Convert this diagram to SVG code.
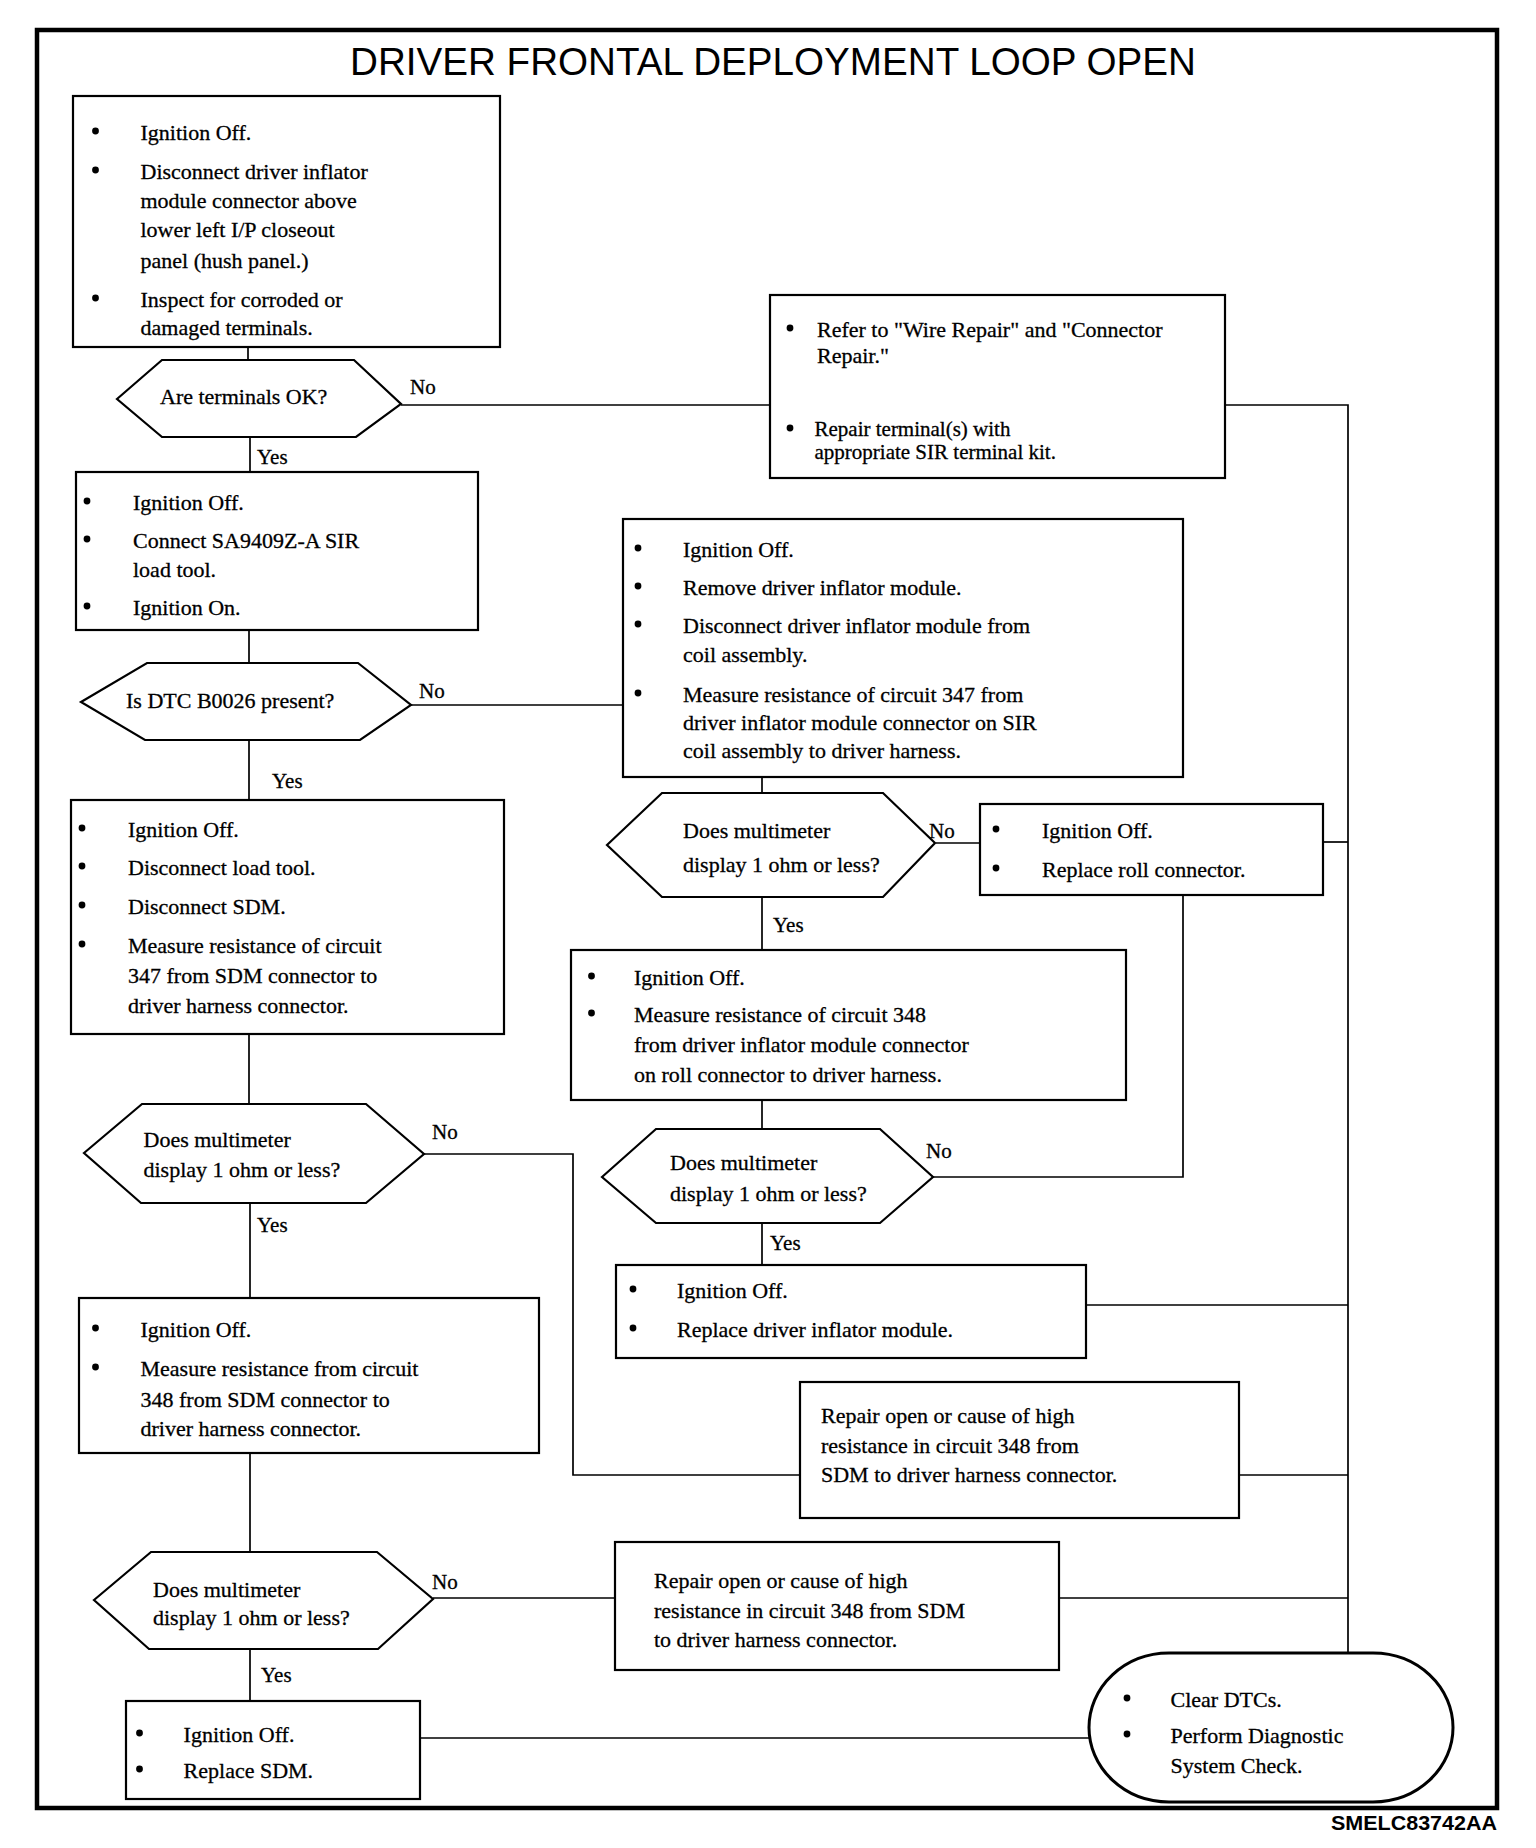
<svg xmlns="http://www.w3.org/2000/svg" width="1536" height="1848" viewBox="0 0 1536 1848">
<style>
.box{fill:#fff;stroke:#000;stroke-width:2.2}
.dec{fill:#fff;stroke:#000;stroke-width:2.2;stroke-linejoin:miter}
.term{fill:#fff;stroke:#000;stroke-width:3}
.t{font-family:"Liberation Serif","Times New Roman",serif;font-size:22px;fill:#000;stroke:#000;stroke-width:0.3}
.s{font-size:21px}
.lbl{font-family:"Liberation Serif","Times New Roman",serif;font-size:21px;fill:#000;stroke:#000;stroke-width:0.3}
.c{fill:none;stroke:#000;stroke-width:1.7}
.b{fill:#000}
.title{font-family:"Liberation Sans",Arial,sans-serif;font-size:38.5px;fill:#000}
.code{font-family:"Liberation Sans",Arial,sans-serif;font-size:21px;font-weight:bold;fill:#000}
</style>
<rect x="0" y="0" width="1536" height="1848" fill="#fff"/>
<rect x="37" y="30" width="1460" height="1778" fill="none" stroke="#000" stroke-width="4.5"/>
<text class="title" x="773" y="75" text-anchor="middle" textLength="846" lengthAdjust="spacingAndGlyphs">DRIVER FRONTAL DEPLOYMENT LOOP OPEN</text>
<text class="code" x="1497" y="1830" text-anchor="end" textLength="166" lengthAdjust="spacingAndGlyphs">SMELC83742AA</text>

<g id="connectors">
<path class="c" d="M248,347 V360"/>
<path class="c" d="M401,405 H770"/>
<path class="c" d="M250,437 V472"/>
<path class="c" d="M249,630 V663"/>
<path class="c" d="M411,705 H623"/>
<path class="c" d="M249,740 V800"/>
<path class="c" d="M762,777 V793"/>
<path class="c" d="M936,843 H980"/>
<path class="c" d="M762,897 V950"/>
<path class="c" d="M249,1034 V1104"/>
<path class="c" d="M424,1154 H573 V1475 H800"/>
<path class="c" d="M1183,895 V1177 H933"/>
<path class="c" d="M762,1100 V1129"/>
<path class="c" d="M762,1223 V1265"/>
<path class="c" d="M250,1203 V1298"/>
<path class="c" d="M250,1453 V1552"/>
<path class="c" d="M433,1598 H615"/>
<path class="c" d="M250,1649 V1701"/>
<path class="c" d="M1225,405 H1348 V1653"/>
<path class="c" d="M1323,842 H1348"/>
<path class="c" d="M1086,1305 H1348"/>
<path class="c" d="M1239,1475 H1348"/>
<path class="c" d="M1059,1598 H1348"/>
<path class="c" d="M420,1738 H1089"/>
<text class="lbl" x="410" y="394">No</text>
<text class="lbl" x="257" y="464">Yes</text>
<text class="lbl" x="419" y="698">No</text>
<text class="lbl" x="272" y="788">Yes</text>
<text class="lbl" x="929" y="838">No</text>
<text class="lbl" x="773" y="932">Yes</text>
<text class="lbl" x="432" y="1139">No</text>
<text class="lbl" x="257" y="1232">Yes</text>
<text class="lbl" x="926" y="1158">No</text>
<text class="lbl" x="770" y="1250">Yes</text>
<text class="lbl" x="432" y="1589">No</text>
<text class="lbl" x="261" y="1682">Yes</text>
</g>

<g id="step1">
<rect class="box" x="73" y="96" width="427" height="251"/>
<circle class="b" cx="95.5" cy="131" r="3.4"/>
<circle class="b" cx="95.5" cy="170" r="3.4"/>
<circle class="b" cx="95.5" cy="298" r="3.4"/>
<text class="t" x="140.5" y="140">Ignition Off.</text>
<text class="t" x="140.5" y="179">Disconnect driver inflator</text>
<text class="t" x="140.5" y="208">module connector above</text>
<text class="t" x="140.5" y="237">lower left I/P closeout</text>
<text class="t" x="140.5" y="268">panel (hush panel.)</text>
<text class="t" x="140.5" y="307">Inspect for corroded or</text>
<text class="t" x="140.5" y="335">damaged terminals.</text>
</g>

<g id="q-terminals">
<polygon class="dec" points="117,399 162,360 354,360 401,404 356,437 162,437"/>
<text class="t" x="160" y="404">Are terminals OK?</text>
</g>

<g id="repair-terminals">
<rect class="box" x="770" y="295" width="455" height="183"/>
<circle class="b" cx="790" cy="328" r="3.4"/>
<circle class="b" cx="790" cy="428" r="3.4"/>
<text class="t" x="817" y="337">Refer to "Wire Repair" and "Connector</text>
<text class="t" x="817" y="363">Repair."</text>
<text class="t s" x="814.5" y="436">Repair terminal(s) with</text>
<text class="t s" x="814.5" y="459">appropriate SIR terminal kit.</text>
</g>

<g id="step2">
<rect class="box" x="76" y="472" width="402" height="158"/>
<circle class="b" cx="87" cy="501" r="3.4"/>
<circle class="b" cx="87" cy="539" r="3.4"/>
<circle class="b" cx="87" cy="606" r="3.4"/>
<text class="t" x="133" y="510">Ignition Off.</text>
<text class="t" x="133" y="548">Connect SA9409Z-A SIR</text>
<text class="t" x="133" y="577">load tool.</text>
<text class="t" x="133" y="615">Ignition On.</text>
</g>

<g id="q-dtc">
<polygon class="dec" points="81,702 147,663 358,663 411,705 360,740 145,740"/>
<text class="t" x="126" y="708">Is DTC B0026 present?</text>
</g>

<g id="step-347-coil">
<rect class="box" x="623" y="519" width="560" height="258"/>
<circle class="b" cx="638" cy="548" r="3.4"/>
<circle class="b" cx="638" cy="586" r="3.4"/>
<circle class="b" cx="638" cy="624" r="3.4"/>
<circle class="b" cx="638" cy="693" r="3.4"/>
<text class="t" x="683" y="557">Ignition Off.</text>
<text class="t" x="683" y="595">Remove driver inflator module.</text>
<text class="t" x="683" y="633">Disconnect driver inflator module from</text>
<text class="t" x="683" y="662">coil assembly.</text>
<text class="t" x="683" y="702">Measure resistance of circuit 347 from</text>
<text class="t" x="683" y="730">driver inflator module connector on SIR</text>
<text class="t" x="683" y="758">coil assembly to driver harness.</text>
</g>

<g id="step-347-sdm">
<rect class="box" x="71" y="800" width="433" height="234"/>
<circle class="b" cx="82" cy="828" r="3.4"/>
<circle class="b" cx="82" cy="866" r="3.4"/>
<circle class="b" cx="82" cy="905" r="3.4"/>
<circle class="b" cx="82" cy="944" r="3.4"/>
<text class="t" x="128" y="837">Ignition Off.</text>
<text class="t" x="128" y="875">Disconnect load tool.</text>
<text class="t" x="128" y="914">Disconnect SDM.</text>
<text class="t" x="128" y="953">Measure resistance of circuit</text>
<text class="t" x="128" y="983">347 from SDM connector to</text>
<text class="t" x="128" y="1013">driver harness connector.</text>
</g>

<g id="q-ohm-347-coil">
<polygon class="dec" points="607,845 662,793 883,793 935,843 883,897 662,897"/>
<text class="t" x="683" y="838">Does multimeter</text>
<text class="t" x="683" y="872">display 1 ohm or less?</text>
</g>

<g id="replace-roll">
<rect class="box" x="980" y="804" width="343" height="91"/>
<circle class="b" cx="996" cy="829" r="3.4"/>
<circle class="b" cx="996" cy="868" r="3.4"/>
<text class="t" x="1042" y="838">Ignition Off.</text>
<text class="t" x="1042" y="877">Replace roll connector.</text>
</g>

<g id="step-348-coil">
<rect class="box" x="571" y="950" width="555" height="150"/>
<circle class="b" cx="591.5" cy="976" r="3.4"/>
<circle class="b" cx="591.5" cy="1013" r="3.4"/>
<text class="t" x="634" y="985">Ignition Off.</text>
<text class="t" x="634" y="1022">Measure resistance of circuit 348</text>
<text class="t" x="634" y="1052">from driver inflator module connector</text>
<text class="t" x="634" y="1082">on roll connector to driver harness.</text>
</g>

<g id="q-ohm-347-sdm">
<polygon class="dec" points="84,1153 142,1104 366,1104 424,1154 366,1203 141,1203"/>
<text class="t" x="143.5" y="1147">Does multimeter</text>
<text class="t" x="143.5" y="1177">display 1 ohm or less?</text>
</g>

<g id="q-ohm-348-coil">
<polygon class="dec" points="602,1177 656,1129 880,1129 933,1177 880,1223 656,1223"/>
<text class="t" x="670" y="1170">Does multimeter</text>
<text class="t" x="670" y="1201">display 1 ohm or less?</text>
</g>

<g id="replace-inflator">
<rect class="box" x="616" y="1265" width="470" height="93"/>
<circle class="b" cx="633" cy="1289" r="3.4"/>
<circle class="b" cx="633" cy="1328" r="3.4"/>
<text class="t" x="677" y="1298">Ignition Off.</text>
<text class="t" x="677" y="1337">Replace driver inflator module.</text>
</g>

<g id="step-348-sdm">
<rect class="box" x="79" y="1298" width="460" height="155"/>
<circle class="b" cx="95.5" cy="1328" r="3.4"/>
<circle class="b" cx="95.5" cy="1367" r="3.4"/>
<text class="t" x="140.5" y="1337">Ignition Off.</text>
<text class="t" x="140.5" y="1376">Measure resistance from circuit</text>
<text class="t" x="140.5" y="1407">348 from SDM connector to</text>
<text class="t" x="140.5" y="1436">driver harness connector.</text>
</g>

<g id="repair-347">
<rect class="box" x="800" y="1382" width="439" height="136"/>
<text class="t" x="821" y="1423">Repair open or cause of high</text>
<text class="t" x="821" y="1453">resistance in circuit 348 from</text>
<text class="t" x="821" y="1482">SDM to driver harness connector.</text>
</g>

<g id="q-ohm-348-sdm">
<polygon class="dec" points="94,1600 151,1552 377,1552 433,1599 378,1649 149,1649"/>
<text class="t" x="153" y="1597">Does multimeter</text>
<text class="t" x="153" y="1625">display 1 ohm or less?</text>
</g>

<g id="repair-348">
<rect class="box" x="615" y="1542" width="444" height="128"/>
<text class="t" x="654" y="1588">Repair open or cause of high</text>
<text class="t" x="654" y="1618">resistance in circuit 348 from SDM</text>
<text class="t" x="654" y="1647">to driver harness connector.</text>
</g>

<g id="replace-sdm">
<rect class="box" x="126" y="1701" width="294" height="98"/>
<circle class="b" cx="139.5" cy="1733" r="3.4"/>
<circle class="b" cx="139.5" cy="1769" r="3.4"/>
<text class="t" x="183.6" y="1742">Ignition Off.</text>
<text class="t" x="183.6" y="1778">Replace SDM.</text>
</g>

<g id="end">
<rect class="term" x="1089" y="1653" width="364" height="149" rx="80" ry="74.5"/>
<circle class="b" cx="1127" cy="1698" r="3.4"/>
<circle class="b" cx="1127" cy="1734" r="3.4"/>
<text class="t" x="1170.5" y="1707">Clear DTCs.</text>
<text class="t" x="1170.5" y="1743">Perform Diagnostic</text>
<text class="t" x="1170.5" y="1773">System Check.</text>
</g>
</svg>
